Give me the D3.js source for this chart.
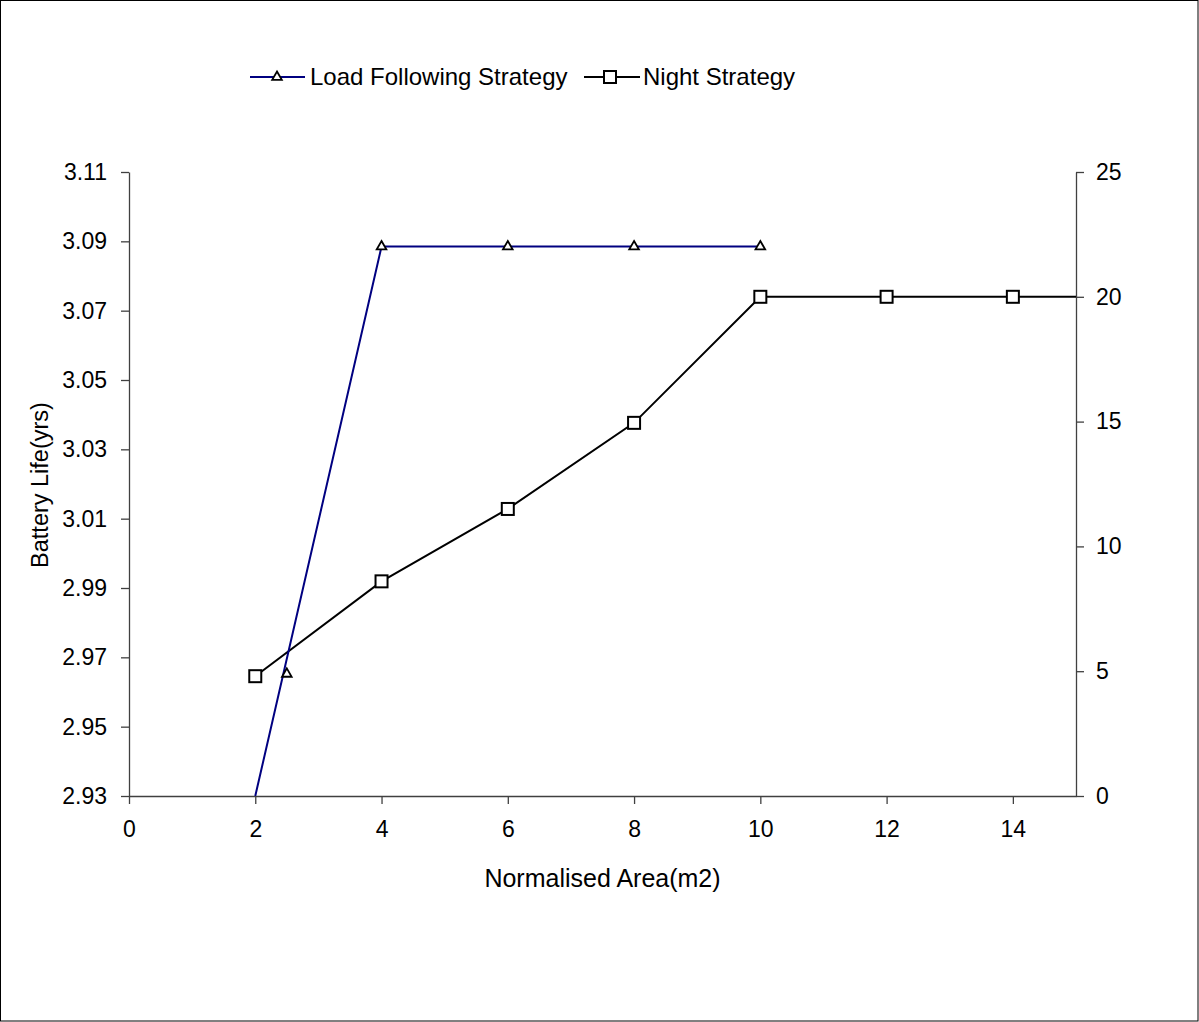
<!DOCTYPE html>
<html>
<head>
<meta charset="utf-8">
<script src="https://cdn.jsdelivr.net/npm/d3@7"></script>
<style>
  html, body { margin: 0; padding: 0; background: #fff; }
  text { font-family: "Liberation Sans", Arial, sans-serif; fill: #000; }
</style>
</head>
<body>
<svg id="chart" width="1199" height="1022"></svg>
<script>
// Load following strategy (left axis, battery life in years)
const lfX = [2, 4, 6, 8, 10];
const lfY = [2.93, 3.0885, 3.0885, 3.0885, 3.0885];
// Extra load-following sample plotted as a marker only
const lfExtraX = [2.5];
const lfExtraY = [2.9652];

// Night strategy (right axis)
const nsX = [2, 4, 6, 8, 10, 12, 14, 16];
const nsY = [4.8, 8.6, 11.5, 14.95, 20, 20, 20, 20];

const xTicks = [0, 2, 4, 6, 8, 10, 12, 14];
const leftTicks = [2.93, 2.95, 2.97, 2.99, 3.01, 3.03, 3.05, 3.07, 3.09, 3.11];
const rightTicks = [0, 5, 10, 15, 20, 25];

const svg = d3.select("#chart");
const W = 1199, H = 1022;
const plot = { left: 129, right: 1076, top: 172, bottom: 796 };

// chart border
svg.append("rect").attr("x", 0.5).attr("y", 0.5).attr("width", W - 1.5).attr("height", H - 1.5)
  .attr("fill", "#fff").attr("stroke", "#000").attr("stroke-width", 1);

const x = d3.scaleLinear().domain([0, 15]).range([plot.left, plot.right]);
const yL = d3.scaleLinear().domain([2.93, 3.11]).range([plot.bottom, plot.top]);
const yR = d3.scaleLinear().domain([0, 25]).range([plot.bottom, plot.top]);

svg.append("defs").append("clipPath").attr("id", "plotClip")
  .append("rect").attr("x", plot.left).attr("y", plot.top)
  .attr("width", plot.right - plot.left).attr("height", plot.bottom - plot.top);

const axisColor = "#404040";
function styleAxis(g) {
  g.selectAll("path").attr("stroke", axisColor).attr("stroke-width", 1.3);
  g.selectAll("line").attr("stroke", axisColor).attr("stroke-width", 1.3);
  g.selectAll("text").style("font-family", "'Liberation Sans', Arial, sans-serif")
    .style("font-size", "23px").attr("fill", "#000");
}

// x axis
const gx = svg.append("g").attr("transform", `translate(0,${plot.bottom})`)
  .call(d3.axisBottom(x).tickValues(xTicks).tickSize(8).tickSizeOuter(0).tickPadding(17).tickFormat(d3.format("d")));
styleAxis(gx);

// left axis
const gl = svg.append("g").attr("transform", `translate(${plot.left},0)`)
  .call(d3.axisLeft(yL).tickValues(leftTicks).tickSize(8).tickSizeOuter(0).tickPadding(14).tickFormat(d3.format(".2f")));
styleAxis(gl);

// right axis
const gr = svg.append("g").attr("transform", `translate(${plot.right},0)`)
  .call(d3.axisRight(yR).tickValues(rightTicks).tickSize(8).tickSizeOuter(0).tickPadding(12).tickFormat(d3.format("d")));
styleAxis(gr);

// axis titles
svg.append("text").attr("x", (plot.left + plot.right) / 2).attr("y", 887)
  .attr("text-anchor", "middle").style("font-size", "25px").text("Normalised Area(m2)");
svg.append("text").attr("transform", `translate(48,${(plot.top + plot.bottom) / 2 + 1}) rotate(-90)`)
  .attr("text-anchor", "middle").style("font-size", "23.5px").text("Battery Life(yrs)");

const series = svg.append("g").attr("clip-path", "url(#plotClip)");

const lfColor = "#000080";
const nsColor = "#000";

// night strategy line and square markers
const nsData = nsX.map((d, i) => ({ x: d, y: nsY[i] }));
series.append("path").datum(nsData)
  .attr("fill", "none").attr("stroke", nsColor).attr("stroke-width", 2)
  .attr("d", d3.line().x(d => x(d.x)).y(d => yR(d.y)));
series.selectAll(".sq").data(nsData.filter(d => d.x <= 15)).join("rect")
  .attr("x", d => x(d.x) - 6).attr("y", d => yR(d.y) - 6)
  .attr("width", 12).attr("height", 12)
  .attr("fill", "#fff").attr("stroke", nsColor).attr("stroke-width", 2);

// load following line and triangle markers
const lfData = lfX.map((d, i) => ({ x: d, y: lfY[i] }));
series.append("path").datum(lfData)
  .attr("fill", "none").attr("stroke", lfColor).attr("stroke-width", 2)
  .attr("d", d3.line().x(d => x(d.x)).y(d => yL(d.y)));

const tri = d3.symbol().type(d3.symbolTriangle).size(40);
const lfMarks = lfData.filter(d => d.y > 2.93)
  .concat(lfExtraX.map((d, i) => ({ x: d, y: lfExtraY[i] })));
series.selectAll(".tri").data(lfMarks).join("path")
  .attr("transform", d => `translate(${x(d.x)},${yL(d.y)})`)
  .attr("d", tri).attr("fill", "#fff").attr("stroke", "#000").attr("stroke-width", 1.8);

// legend
const lg = svg.append("g");
lg.append("line").attr("x1", 250).attr("x2", 305).attr("y1", 77).attr("y2", 77)
  .attr("stroke", lfColor).attr("stroke-width", 2);
lg.append("path").attr("transform", "translate(277,77)").attr("d", tri)
  .attr("fill", "#fff").attr("stroke", "#000").attr("stroke-width", 1.8);
lg.append("text").attr("x", 310).attr("y", 85).style("font-size", "24px").text("Load Following Strategy");
lg.append("line").attr("x1", 584).attr("x2", 640).attr("y1", 77).attr("y2", 77)
  .attr("stroke", nsColor).attr("stroke-width", 2);
lg.append("rect").attr("x", 604).attr("y", 71).attr("width", 12).attr("height", 12)
  .attr("fill", "#fff").attr("stroke", nsColor).attr("stroke-width", 2);
lg.append("text").attr("x", 643).attr("y", 85).style("font-size", "24px").text("Night Strategy");
</script>
</body>
</html>
